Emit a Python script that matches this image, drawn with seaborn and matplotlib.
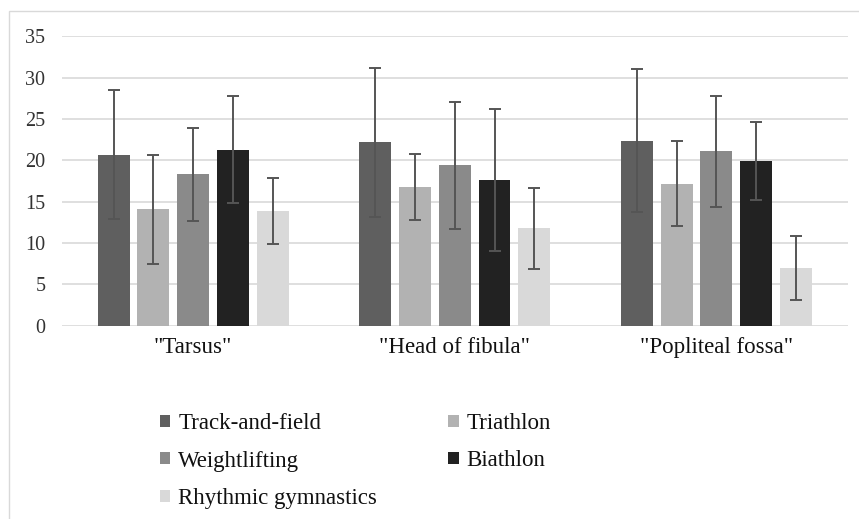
import matplotlib
matplotlib.use("Agg")
import matplotlib.pyplot as plt
from matplotlib.patches import Rectangle
import seaborn as sns
import pandas as pd

# ---- data ----
sites = ['"Tarsus"', '"Head of fibula"', '"Popliteal fossa"']
sports = ["Track-and-field", "Triathlon", "Weightlifting", "Biathlon", "Rhythmic gymnastics"]
track_mean = [20.7, 22.2, 22.4]
triathlon_mean = [14.1, 16.8, 17.2]
weightlifting_mean = [18.3, 19.4, 21.1]
biathlon_mean = [21.3, 17.6, 19.9]
rhythmic_mean = [13.9, 11.8, 7.0]
track_sd = [7.8, 9.0, 8.7]
triathlon_sd = [6.6, 4.0, 5.1]
weightlifting_sd = [5.6, 7.7, 6.7]
biathlon_sd = [6.5, 8.6, 4.7]
rhythmic_sd = [4.0, 4.9, 3.9]
y_ticks = [0, 5, 10, 15, 20, 25, 30, 35]

colors = ["#5f5f5f", "#b2b2b2", "#8a8a8a", "#222222", "#d9d9d9"]

means = [track_mean, triathlon_mean, weightlifting_mean, biathlon_mean, rhythmic_mean]
sds = [track_sd, triathlon_sd, weightlifting_sd, biathlon_sd, rhythmic_sd]
rows = []
for sp, m, s in zip(sports, means, sds):
    for site, mv, sv in zip(sites, m, s):
        rows.append({"site": site, "sport": sp, "mean": mv, "sd": sv})
df = pd.DataFrame(rows)

sns.set_theme(style="white")
plt.rcParams["font.family"] = ["Liberation Serif", "DejaVu Serif"]

W, H = 859, 519
fig = plt.figure(figsize=(W / 100, H / 100), dpi=100)
fig.patch.set_facecolor("white")

# outer light border
fig.patches.append(Rectangle((8.5 / W, -0.1), 1.2, 1 - 10.5 / H + 0.1,
                             transform=fig.transFigure, fill=False,
                             edgecolor="#d9d9d9", linewidth=1.0))

ax = fig.add_axes([62 / W, 1 - 325.7 / H, (847.5 - 62) / W, (325.7 - 36) / H])
sns.barplot(data=df, x="site", y="mean", hue="sport", hue_order=sports,
            order=sites, palette=colors, width=0.76, gap=0.2,
            errorbar=None, ax=ax, saturation=1, edgecolor="none")

bar_conts = list(ax.containers)
for i, cont in enumerate(bar_conts):
    xs = [b.get_x() + b.get_width() / 2 for b in cont.patches]
    ys = [b.get_height() for b in cont.patches]
    ax.errorbar(xs, ys, yerr=sds[i], fmt="none", ecolor="#555555",
                elinewidth=1.4, capsize=4.5, capthick=1.4, zorder=5)

ax.set_ylim(0, 35.05)
ax.set_yticks(y_ticks)
ax.set_yticklabels([str(t) for t in y_ticks])
ax.yaxis.grid(True, color="#d9d9d9", linewidth=1.2)
ax.set_axisbelow(True)
for sp in ax.spines.values():
    sp.set_visible(False)
ax.tick_params(axis="y", length=0, pad=12, labelsize=14.5, labelcolor="#333333")
ax.tick_params(axis="x", length=0, pad=8, labelsize=16.5, labelcolor="#111111")
ax.set_xlabel("")
ax.set_ylabel("")

handles, labels = ax.get_legend_handles_labels()
if ax.get_legend() is not None:
    ax.get_legend().remove()
hmap = dict(zip(labels, handles))
order = ["Track-and-field", "Weightlifting", "Rhythmic gymnastics", "Triathlon", "Biathlon"]
fig.legend([hmap[k] for k in order], order, ncol=2, loc="upper left",
           bbox_to_anchor=(160 / W, 1 - 413 / H), frameon=False,
           fontsize=16.5, handlelength=0.45, handleheight=0.45,
           handletextpad=0.35, labelspacing=0.72, columnspacing=3.1,
           borderpad=0, borderaxespad=0, labelcolor="#111111")

fig.savefig("out.png", dpi=100)
